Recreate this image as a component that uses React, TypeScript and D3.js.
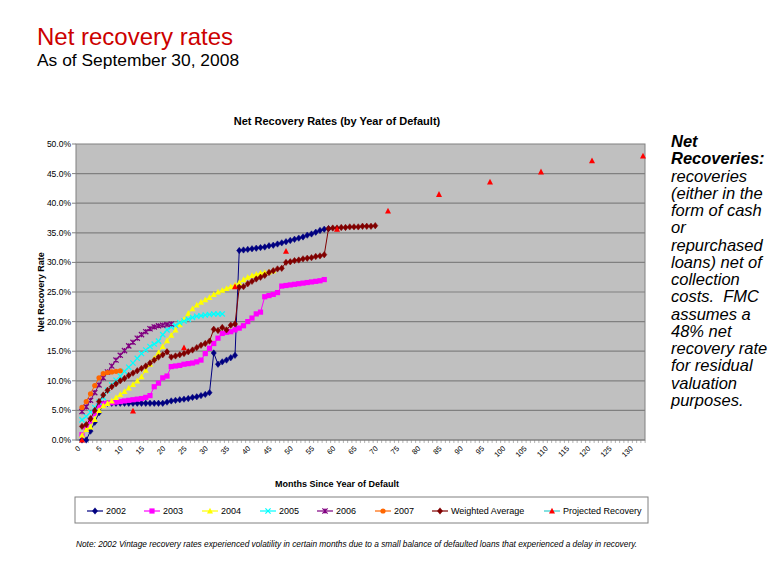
import React from "react";
import * as d3 from "d3";

// ---- data (percent values, index = month since year of default) ----
const s2002 = [0, 0, 1.5, 3.0, 4.6, 6.1, 6.2, 6.2, 6.2, 6.2, 6.2, 6.2, 6.2, 6.2, 6.2, 6.2, 6.2, 6.2, 6.2, 6.2,
  6.4, 6.6, 6.7, 6.8, 6.9, 7.0, 7.2, 7.3, 7.5, 7.7, 8.0,
  14.7, 12.8, 13.2, 13.5, 13.9, 14.3,
  32.0, 32.1, 32.2, 32.3, 32.4, 32.5, 32.6, 32.8, 32.9, 33.1, 33.3, 33.5, 33.7, 33.9, 34.1, 34.3, 34.6, 34.8, 35.1, 35.4, 35.6, 35.7];
const s2003 = [0.9, 2.0, 3.2, 4.5, 5.8, 6.1, 6.2, 6.3, 6.4, 6.5, 6.6, 6.7, 6.8, 6.9, 7.0, 7.2, 7.5,
  9.0, 9.6, 10.5, 10.8,
  12.4, 12.5, 12.6, 12.8, 12.9, 13.0, 13.2, 13.5,
  14.6, 15.5, 16.3, 17.2, 18.0, 18.2, 18.3, 18.6, 18.9, 19.3, 20.0,
  20.6, 21.3, 21.6, 24.2, 24.4, 24.6, 24.9,
  26.0, 26.1, 26.2, 26.3, 26.4, 26.5, 26.6, 26.7, 26.8, 26.9, 27.1];
const s2004 = [0.8, 1.8, 2.2, 3.5, 5.0, 5.8, 6.2, 6.6, 7.2, 7.7, 8.2, 8.8, 9.4, 10.0, 10.7, 11.8, 12.8, 13.8, 14.8, 15.8,
  16.8, 17.7, 18.6, 19.5, 20.4, 21.4, 22.2, 22.8, 23.3, 23.7, 24.1, 24.6, 25.0, 25.3, 25.6, 25.9,
  26.2, 26.6, 27.1, 27.5, 27.8, 28.0, 28.2, 28.3, 28.4, 28.6];
const s2005 = [3.4, 4.0, 4.7, 5.5, 6.4, 7.2, 8.4, 9.3, 10.1, 10.8, 11.6, 12.3, 13.0, 13.8, 14.6, 15.2, 15.8, 16.2, 16.7, 17.8,
  18.6, 19.1, 19.4, 19.8, 20.1, 20.4, 20.7, 20.9, 21.0, 21.1, 21.2, 21.3, 21.3, 21.3];
const s2006 = [4.8, 5.6, 6.7, 8.0, 9.3, 10.5, 11.5, 12.5, 13.5, 14.3, 15.1, 15.9, 16.5, 17.2, 17.8, 18.3, 18.8, 19.1, 19.3, 19.4, 19.5, 19.6];
const s2007 = [5.5, 6.5, 7.8, 9.2, 10.5, 11.2, 11.4, 11.5, 11.6, 11.7];
const sWeighted = [2.3, 2.6, 3.6, 5.0, 6.5, 7.6, 8.4, 9.0, 9.5, 10.0, 10.4, 10.9, 11.3, 11.7, 12.1, 12.5, 13.0, 13.5, 14.0, 14.4, 14.9,
  14.0, 14.2, 14.4, 14.6, 14.9, 15.2, 15.6, 16.0, 16.3, 16.7,
  18.7, 18.5, 19.0, 18.6, 19.4, 19.6,
  25.8, 25.9, 26.4, 26.8, 27.2, 27.5, 27.8, 28.3, 28.6, 28.9, 29.0,
  30.0, 30.1, 30.3, 30.4, 30.6, 30.7, 30.8, 31.0, 31.1, 31.3,
  35.7, 35.8, 35.8, 35.9, 35.9, 36.0, 36.0, 36.0, 36.1, 36.1, 36.1, 36.2];
const projMonths = [0, 12, 24, 36, 48, 60, 72, 84, 96, 108, 120, 132];
const projValues = [0, 4.9, 15.6, 25.9, 31.9, 35.6, 38.7, 41.5, 43.6, 45.3, 47.2, 48.0];

const seriesNames = ["2002", "2003", "2004", "2005", "2006", "2007", "Weighted Average", "Projected Recovery"];
const yTicks = [0, 5, 10, 15, 20, 25, 30, 35, 40, 45, 50];
const xTicks = d3.range(0, 131, 5);

const noteLines = [
  { t: "Net", b: true }, { t: "Recoveries:", b: true }, { t: "recoveries", b: false }, { t: "(either in the", b: false },
  { t: "form of cash", b: false }, { t: "or", b: false }, { t: "repurchased", b: false }, { t: "loans) net of", b: false },
  { t: "collection", b: false }, { t: "costs.\u00A0 FMC", b: false }, { t: "assumes a", b: false }, { t: "48% net", b: false },
  { t: "recovery rate", b: false }, { t: "for residual", b: false }, { t: "valuation", b: false }, { t: "purposes.", b: false },
];

const FONT = "Arial, 'Liberation Sans', Helvetica, sans-serif";

type MarkerKind = "diamond" | "square" | "triangle" | "x" | "star" | "circle";

function Marker({ kind, x, y, color }: { kind: MarkerKind; x: number; y: number; color: string }) {
  const r = 2.6;
  switch (kind) {
    case "diamond":
      return <path d={`M${x},${y - r - 0.6}L${x + r},${y}L${x},${y + r + 0.6}L${x - r},${y}Z`} fill={color} stroke={color} strokeWidth={0.5} />;
    case "square":
      return <rect x={x - r} y={y - r} width={2 * r} height={2 * r} fill={color} />;
    case "triangle":
      return <path d={`M${x},${y - r - 0.6}L${x + r + 0.4},${y + r}L${x - r - 0.4},${y + r}Z`} fill={color} />;
    case "circle":
      return <circle cx={x} cy={y} r={r} fill={color} />;
    case "x":
      return <path d={`M${x - r},${y - r}L${x + r},${y + r}M${x - r},${y + r}L${x + r},${y - r}`} stroke={color} strokeWidth={1.2} />;
    case "star":
      return <path d={`M${x - r},${y - r}L${x + r},${y + r}M${x - r},${y + r}L${x + r},${y - r}M${x},${y - r}L${x},${y + r}`} stroke={color} strokeWidth={1.2} />;
  }
}

export default function App() {
  const W = 780, H = 585;
  const plotL = 76, plotR = 645, plotT = 144, plotB = 440;
  const x = d3.scaleLinear().domain([0, 132]).range([82, 643]);
  const y = d3.scaleLinear().domain([0, 50]).range([plotB, plotT]);

  const series = [
    { name: seriesNames[0], data: s2002, color: "#000080", marker: "diamond" as MarkerKind },
    { name: seriesNames[1], data: s2003, color: "#FF00FF", marker: "square" as MarkerKind },
    { name: seriesNames[2], data: s2004, color: "#FFFF00", marker: "triangle" as MarkerKind },
    { name: seriesNames[3], data: s2005, color: "#00FFFF", marker: "x" as MarkerKind },
    { name: seriesNames[4], data: s2006, color: "#800080", marker: "star" as MarkerKind },
    { name: seriesNames[5], data: s2007, color: "#FF6600", marker: "circle" as MarkerKind },
    { name: seriesNames[6], data: sWeighted, color: "#800000", marker: "diamond" as MarkerKind },
  ];

  const lineGen = d3.line<number>().x((_, i) => x(i)).y((d) => y(d));

  const legendX = [87, 144, 202, 260, 317, 375, 432, 544];
  const legendColors = ["#000080", "#FF00FF", "#FFFF00", "#00FFFF", "#800080", "#FF6600", "#800000", "#33CCCC"];
  const legendMarkers: MarkerKind[] = ["diamond", "square", "triangle", "x", "star", "circle", "diamond", "triangle"];
  const legendMarkerColors = ["#000080", "#FF00FF", "#FFFF00", "#00FFFF", "#800080", "#FF6600", "#800000", "#FF0000"];

  return (
    <svg width={W} height={H} style={{ position: "absolute", left: 0, top: 0, background: "#fff" }} fontFamily={FONT}>
      {/* page titles */}
      <text x={37} y={45} fontSize={24} fill="#CC0000">Net recovery rates</text>
      <text x={37} y={66} fontSize={17.4} fill="#000">As of September 30, 2008</text>

      {/* chart title */}
      <text x={337} y={125} fontSize={11} fontWeight="bold" textAnchor="middle">Net Recovery Rates (by Year of Default)</text>

      {/* plot area */}
      <rect x={plotL} y={plotT} width={plotR - plotL} height={plotB - plotT} fill="#C0C0C0" stroke="#808080" strokeWidth={1} />
      {yTicks.map((t) => (
        <g key={t}>
          {t > 0 && t < 50 && <line x1={plotL} x2={plotR} y1={y(t)} y2={y(t)} stroke="#808080" strokeWidth={1.2} />}
          <line x1={plotL - 4} x2={plotL} y1={y(t)} y2={y(t)} stroke="#808080" />
          <text x={71} y={y(t) + 3} fontSize={8.5} textAnchor="end">{t.toFixed(1) + "%"}</text>
        </g>
      ))}
      {/* x axis ticks */}
      <line x1={plotL} x2={plotR} y1={plotB} y2={plotB} stroke="#808080" />
      {d3.range(-1, 133).map((m) => (
        <line key={m} x1={x(m + 0.5)} x2={x(m + 0.5)} y1={plotB} y2={plotB + 3} stroke="#808080" strokeWidth={0.6} />
      ))}
      {xTicks.map((t) => (
        <text key={t} x={0} y={0} fontSize={7.5} textAnchor="end"
          transform={`translate(${x(t) - 1},${plotB + 9}) rotate(-45)`}>{t}</text>
      ))}

      {/* axis titles */}
      <text x={0} y={0} fontSize={9} fontWeight="bold" textAnchor="middle" transform={`translate(44,${(plotT + plotB) / 2}) rotate(-90)`}>Net Recovery Rate</text>
      <text x={337} y={487} fontSize={9} fontWeight="bold" textAnchor="middle">Months Since Year of Default</text>

      {/* series */}
      {series.map((s) => (
        <g key={s.name}>
          <path d={lineGen(s.data) || ""} fill="none" stroke={s.color} strokeWidth={1} />
          {s.data.map((v, i) => (
            <Marker key={i} kind={s.marker} x={x(i)} y={y(v)} color={s.color} />
          ))}
        </g>
      ))}
      <g>
        {projMonths.map((m, i) => (
          <Marker key={m} kind="triangle" x={x(m)} y={y(projValues[i])} color="#FF0000" />
        ))}
      </g>

      {/* legend */}
      <rect x={75} y={497} width={573} height={26} fill="#fff" stroke="#808080" strokeWidth={1} />
      {seriesNames.map((n, i) => (
        <g key={n}>
          <line x1={legendX[i]} x2={legendX[i] + 16} y1={511} y2={511} stroke={legendColors[i]} strokeWidth={1.2} />
          <Marker kind={legendMarkers[i]} x={legendX[i] + 8} y={511} color={legendMarkerColors[i]} />
          <text x={legendX[i] + 19} y={514} fontSize={9}>{n}</text>
        </g>
      ))}

      {/* footnote */}
      <text x={76} y={547} fontSize={8.3} fontStyle="italic">Note: 2002 Vintage recovery rates experienced volatility in certain months due to a small balance of defaulted loans that experienced a delay in recovery.</text>

      {/* side note */}
      {noteLines.map((l, i) => (
        <text key={i} x={671} y={147 + i * 17.25} fontSize={16.5} fontStyle="italic" fontWeight={l.b ? "bold" : "normal"}>{l.t}</text>
      ))}
    </svg>
  );
}
